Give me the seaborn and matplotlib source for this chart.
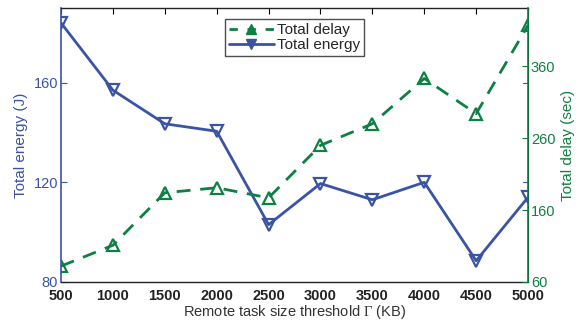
import numpy as np
import pandas as pd
import seaborn as sns
import matplotlib.pyplot as plt
from matplotlib.lines import Line2D

# values
thresholds = [500, 1000, 1500, 2000, 2500, 3000, 3500, 4000, 4500, 5000]
total_energy = [184, 157, 143.5, 140.5, 103, 119.5, 113, 120, 88.5, 114]
total_delay = [82, 111, 184, 191, 177, 250, 280, 343, 294, 417]

BLUE = "#3a53a4"
GREEN = "#0d8043"


def main():
    sns.set_style("white")
    plt.rcParams["font.family"] = ["Liberation Sans", "DejaVu Sans"]
    plt.rcParams["mathtext.fontset"] = "custom"
    plt.rcParams["mathtext.rm"] = "Liberation Serif"
    plt.rcParams["mathtext.it"] = "Liberation Serif"

    df = pd.DataFrame({"threshold": thresholds,
                       "energy": total_energy,
                       "delay": total_delay})

    fig = plt.figure(figsize=(5.79, 3.2), dpi=100)
    ax = fig.add_axes([0.1054, 0.119, 0.8066, 0.856])
    ax2 = ax.twinx()

    sns.lineplot(data=df, x="threshold", y="energy", ax=ax, color=BLUE,
                 lw=2, marker="v", markersize=9, markerfacecolor="none",
                 markeredgecolor=BLUE, markeredgewidth=1.6,
                 label="Total energy", legend=False)
    sns.lineplot(data=df, x="threshold", y="delay", ax=ax2, color=GREEN,
                 lw=2, marker="^", markersize=9, markerfacecolor="none",
                 markeredgecolor=GREEN, markeredgewidth=1.6,
                 label="Total delay", legend=False)
    ax2.lines[0].set_dashes([5, 3.5])

    ax.set_xlim(500, 5000)
    ax.set_ylim(80, 190)
    ax2.set_ylim(60, 441)
    ax.set_xticks(thresholds)
    ax.set_yticks([80, 120, 160])
    ax2.set_yticks([60, 160, 260, 360])

    ax.tick_params(axis="x", direction="in", top=True, length=4,
                   labelsize=10.5, colors="black", pad=5)
    for lab in ax.get_xticklabels():
        lab.set_fontweight("bold")
        lab.set_color("#222222")
    ax.tick_params(axis="y", direction="in", length=4, labelsize=10.5,
                   colors=BLUE, right=False, pad=2)
    ax2.tick_params(axis="y", direction="in", length=4, labelsize=10.5,
                    colors=GREEN, pad=2)
    # left ticks mirrored on the right side in blue
    for yv in [120, 160]:
        ax.plot([1.0, 0.99], [yv, yv], color=BLUE, lw=0.8,
                transform=ax.get_yaxis_transform(), clip_on=False)

    for s in ["top", "bottom"]:
        ax.spines[s].set_color("#222222")
        ax.spines[s].set_linewidth(1)
    ax.spines["left"].set_color(BLUE)
    ax.spines["left"].set_linewidth(1.2)
    ax2.spines["right"].set_color(GREEN)
    ax2.spines["right"].set_linewidth(1.2)
    ax2.spines["left"].set_visible(False)
    ax2.spines["top"].set_visible(False)
    ax2.spines["bottom"].set_visible(False)

    ax.set_xlabel(r"Remote task size threshold $\mathrm{\Gamma}$ (KB)",
                  fontsize=10.5, color="#333333", labelpad=0)
    ax.set_ylabel("Total energy (J)", fontsize=11, color=BLUE, labelpad=4)
    ax2.set_ylabel("Total delay (sec)", fontsize=11, color=GREEN, labelpad=4)

    handles = [
        Line2D([], [], color=GREEN, lw=2, dashes=[3, 3.5], marker="^",
               markersize=7, markerfacecolor=GREEN, markeredgecolor=GREEN),
        Line2D([], [], color=BLUE, lw=2, marker="v", markersize=7,
               markerfacecolor=BLUE, markeredgecolor=BLUE),
    ]
    leg = ax.legend(handles, ["Total delay", "Total energy"], loc="upper center",
                    bbox_to_anchor=(0.5, 0.97), fontsize=11, frameon=True,
                    fancybox=False, borderpad=0.25, labelspacing=0.05,
                    handlelength=3.0, handletextpad=0.2, borderaxespad=0.2)
    leg.get_frame().set_edgecolor("#222222")
    leg.get_frame().set_linewidth(1)
    leg.set_zorder(5)

    fig.savefig("out.png", dpi=100)


if __name__ == '__main__':
    main()
